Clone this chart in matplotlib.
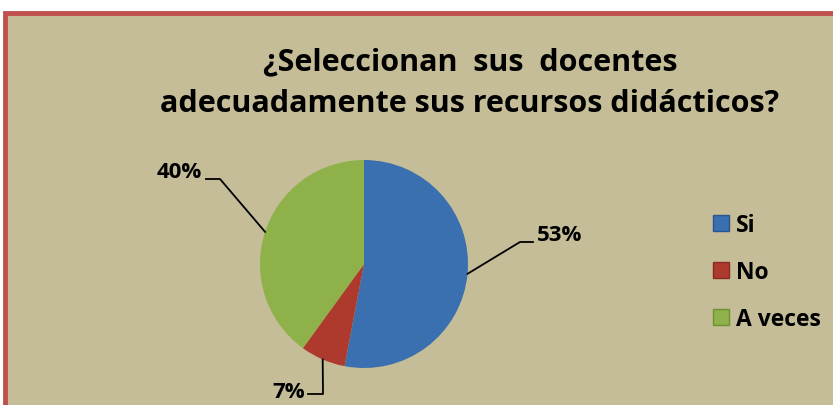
import matplotlib
matplotlib.use("Agg")
import matplotlib.pyplot as plt
from matplotlib.patches import Rectangle, Patch
import numpy as np

title = "¿Seleccionan  sus  docentes\nadecuadamente sus recursos didácticos?"
categories = ["Si", "No", "A veces"]
values = [53, 7, 40]
pct_labels = ["53%", "7%", "40%"]
colors = ["#3A6FB0", "#AE3A2E", "#8FB14A"]
edge_colors = ["#2A5590", "#8A2A20", "#6F8F35"]

W, H = 833, 406
fig = plt.figure(figsize=(W / 100, H / 100), dpi=100)
fig.patch.set_facecolor("white")

font = "Open Sans"

# chart frame
frame = Rectangle((5 / W, -0.1), 1.2, 1 - 14 / H + 0.1, transform=fig.transFigure,
                  facecolor="#C4BD97", edgecolor="#C0504D", linewidth=3.5, zorder=-5)
fig.patches.append(frame)

fig.text(470 / W, 1 - 83 / H, title, ha="center", va="center", fontsize=22,
         fontweight="bold", family=font, linespacing=1.52)

cx, cy, r = 364, 265, 104
ax = fig.add_axes([(cx - r) / W, (H - cy - r) / H, 2 * r / W, 2 * r / H])
ax.set_zorder(2)
ax.set_facecolor("none")
wedges, _ = ax.pie(values, colors=colors, startangle=90, counterclock=False,
                   wedgeprops=dict(linewidth=0.6, edgecolor="none"))
ax.set_xlim(-1, 1)
ax.set_ylim(-1, 1)
ax.set_aspect("auto")
ax.axis("off")

# label layout (pixel offsets)
px = 1.0 / r
layouts = {
    0: dict(knee=(520, 243), end=(533, 243), text=(537, 236), ha="left"),
    1: dict(knee=(323, 395), end=(308, 395), text=(305, 393), ha="right"),
    2: dict(knee=(220, 180), end=(206, 180), text=(202, 172), ha="right"),
}
for i, w in enumerate(wedges):
    ang = np.deg2rad((w.theta1 + w.theta2) / 2)
    x0, y0 = np.cos(ang), np.sin(ang)
    L = layouts[i]
    kx, ky = (L["knee"][0] - cx) * px, (cy - L["knee"][1]) * px
    ex, ey = (L["end"][0] - cx) * px, (cy - L["end"][1]) * px
    ax.plot([x0, kx, ex], [y0, ky, ey], color="black", lw=1.3, clip_on=False)
    tx, ty = (L["text"][0] - cx) * px, (cy - L["text"][1]) * px
    ax.text(tx, ty, pct_labels[i], ha=L["ha"], va="center", fontsize=16,
            fontweight="bold", family=font, clip_on=False)

# legend
handles = [Patch(facecolor=c, edgecolor=e, linewidth=1.0) for c, e in zip(colors, edge_colors)]
leg = fig.legend(handles, categories, loc="center left", bbox_to_anchor=(692 / W, 1 - 273 / H),
                 frameon=False, prop=dict(family=font, weight="bold", size=16.5),
                 handlelength=0.7, handleheight=0.7, handletextpad=0.3, labelspacing=1.0)

fig.savefig("out.png", dpi=100, facecolor=fig.get_facecolor())
